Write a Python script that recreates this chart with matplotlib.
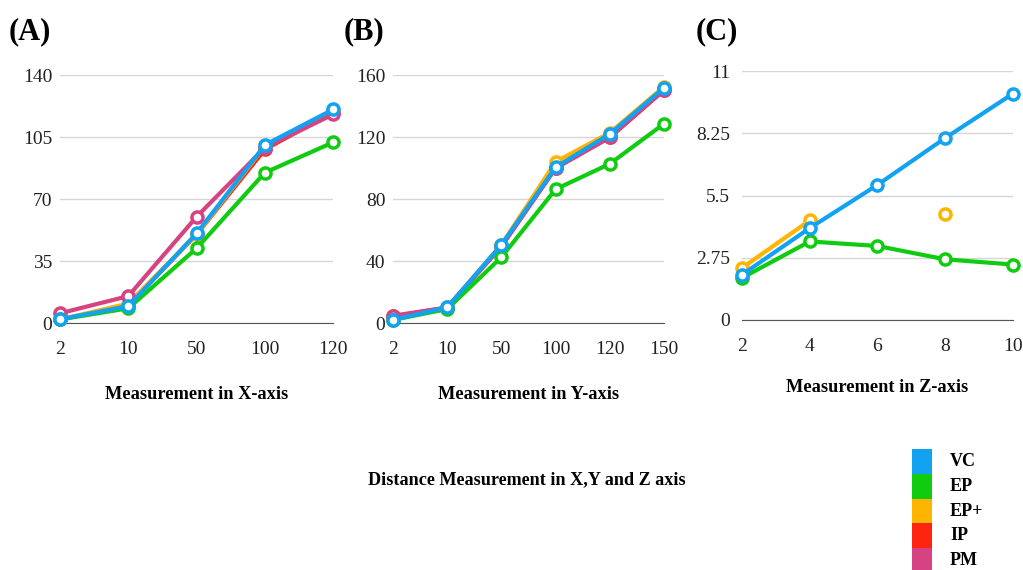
import matplotlib
matplotlib.use('Agg')
import matplotlib.pyplot as plt
from matplotlib.patches import Rectangle
import numpy as np

plt.rcParams['font.family'] = ['Liberation Serif', 'DejaVu Serif']

series = ['VC', 'EP', 'EP+', 'IP', 'PM']
colours = {'VC': '#12a2f2', 'EP': '#10cc10', 'EP+': '#ffb400',
           'IP': '#ff2410', 'PM': '#d64383'}
draw_order = ['IP', 'EP+', 'PM', 'EP', 'VC']

# X-axis measurements
x_cats = ['2', '10', '50', '100', '120']
x_vals = {
    'VC': [2.1, 9.6, 50.6, 100.5, 120.6],
    'EP': [2.0, 8.3, 42.2, 84.9, 102.0],
    'EP+': [2.0, 11.0, 50.0, 100.0, 120.0],
    'IP': [2.0, 10.0, 50.0, 98.0, 119.0],
    'PM': [5.5, 15.2, 60.0, 99.0, 117.8],
}
x_ticks = [0, 35, 70, 105, 140]

# Y-axis measurements
y_cats = ['2', '10', '50', '100', '120', '150']
y_vals = {
    'VC': [2.1, 10.1, 50.5, 100.5, 122.0, 151.8],
    'EP': [2.0, 9.0, 42.5, 86.3, 102.7, 128.6],
    'EP+': [2.1, 10.1, 50.5, 104.0, 122.8, 152.5],
    'IP': [4.3, 10.0, 49.5, 100.0, 119.8, 150.3],
    'PM': [4.7, 10.0, 49.5, 100.0, 119.8, 150.3],
}
y_ticks = [0, 40, 80, 120, 160]

# Z-axis measurements
z_cats = ['2', '4', '6', '8', '10']
z_vals = {
    'VC': [2.0, 4.06, 5.97, 8.04, 10.0],
    'EP': [1.86, 3.47, 3.27, 2.68, 2.45],
    'EP+': [2.3, 4.4, np.nan, 4.68, np.nan],
}
z_ticks = [0, 2.75, 5.5, 8.25, 11]
z_ticklabels = ['0', '2.75', '5.5', '8.25', '11']

fig = plt.figure(figsize=(10.23, 5.70), dpi=100)


def panel(rect, cats, vals, ticks, ticklabels, xlabel, tag, tagx,
          ypad=5.5, labelpad=20):
    ax = fig.add_axes(rect)
    pos = np.arange(len(cats))
    for name in draw_order:
        if name not in vals:
            continue
        ax.plot(pos, vals[name], color=colours[name], lw=3, marker='o',
                ms=8, mfc='white', mec=colours[name], mew=2.5,
                solid_capstyle='round', clip_on=False, zorder=3)
    ax.set_xlim(0, len(cats) - 1)
    ax.set_ylim(ticks[0], ticks[-1])
    ax.set_xticks(pos)
    ax.set_xticklabels(cats)
    ax.set_yticks(ticks)
    ax.set_yticklabels(ticklabels)
    ax.grid(axis='y', color='#d6d6d6', lw=1)
    ax.set_axisbelow(True)
    for s in ['top', 'right', 'left']:
        ax.spines[s].set_visible(False)
    ax.spines['bottom'].set_color('#555555')
    ax.tick_params(length=0, labelsize=14, colors='#222222')
    ax.tick_params(axis='x', pad=13)
    ax.tick_params(axis='y', pad=ypad)
    ax.set_xlabel(xlabel, fontsize=13.2, fontweight='bold', labelpad=labelpad)
    fig.text(tagx, 0.945, tag, fontsize=22, fontweight='bold', va='center')
    return ax


panel([0.0587, 0.4333, 0.267, 0.4351], x_cats, x_vals, x_ticks,
      [str(t) for t in x_ticks], 'Measurement in X-axis', '(A)', 0.008)
panel([0.3842, 0.4333, 0.2649, 0.4351], y_cats, y_vals, y_ticks,
      [str(t) for t in y_ticks], 'Measurement in Y-axis', '(B)', 0.336)
panel([0.7253, 0.4386, 0.2649, 0.4368], z_cats, z_vals, z_ticks,
      z_ticklabels, 'Measurement in Z-axis', '(C)', 0.680,
      ypad=8.5, labelpad=17)

fig.text(0.515, 0.158, 'Distance Measurement in X,Y and Z axis',
         fontsize=13.1, fontweight='bold', ha='center', va='center')

# legend as colour blocks
for i, name in enumerate(series):
    top = 1 - (449 + i * 24.8) / 570
    fig.add_artist(Rectangle((912 / 1023, top - 24.8 / 570), 20 / 1023,
                             24.8 / 570, transform=fig.transFigure,
                             color=colours[name], lw=0))
    fig.text(950 / 1023, top - 12.4 / 570, name, fontsize=13,
             fontweight='bold', va='center')

fig.savefig('out.png', dpi=100)
